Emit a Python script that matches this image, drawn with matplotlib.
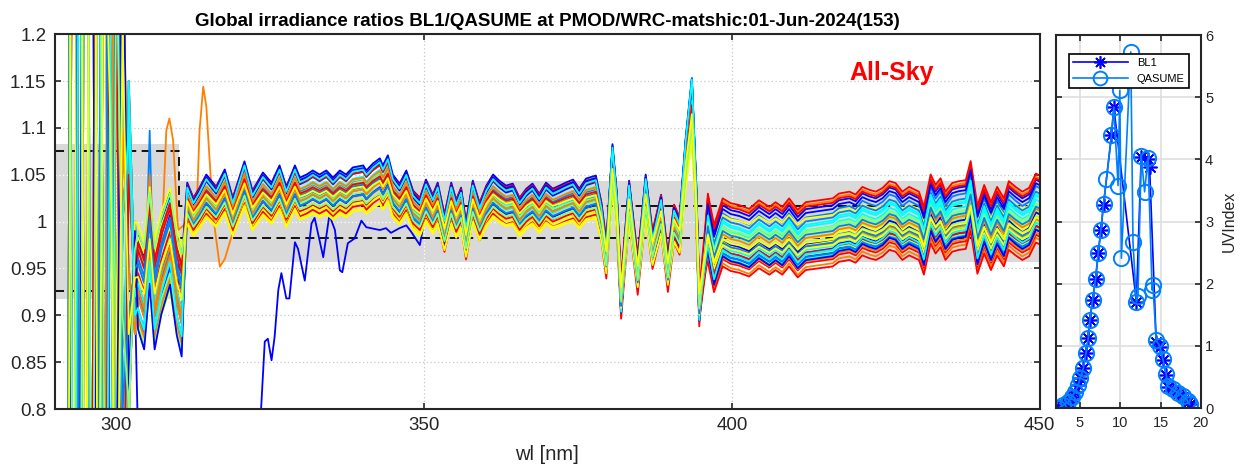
import matplotlib.pyplot as plt
import numpy as np

plt.rcParams['font.family'] = ['Liberation Sans', 'DejaVu Sans']

# ratio structure common to all scans (nm, BL1/QASUME)
base_wl = [303.5, 304.5, 305.4, 306.2, 307.3, 308.7, 309.8, 310.6, 311.5, 312.5,
           313.5, 314.6, 316.2, 317.6, 318.9, 320.8, 322.1, 323.8, 325.2, 326.5,
           327.6, 329.0, 329.8, 330.9, 331.9, 333.0, 334.1, 335.2, 336.3, 337.3,
           338.4, 340.1, 340.6, 341.7, 342.8, 343.3, 344.1, 344.9, 346.0, 347.1,
           348.2, 349.3, 350.3, 351.4, 352.2, 353.3, 354.4, 355.2, 356.0, 356.8,
           357.9, 359.0, 360.1, 361.2, 362.2, 363.3, 364.4, 365.5, 366.6, 367.6,
           368.7, 369.8, 370.9, 372.0, 373.0, 374.2, 375.2, 376.3, 377.9, 378.8,
           379.6, 380.6, 381.3, 382.0, 383.3, 384.7, 386.0, 387.1, 388.5, 389.6,
           390.6, 391.5, 392.5, 393.5, 394.2, 394.7, 396.1, 397.1, 398.5, 399.8,
           401.2, 402.8, 404.4, 406.1, 407.1, 408.2, 409.3, 410.7, 412.0, 414.2,
           416.4, 417.4, 419.1, 420.1, 421.2, 422.3, 423.4, 424.5, 425.6, 426.6,
           427.7, 428.8, 430.4, 431.2, 432.3, 433.1, 433.9, 434.7, 435.8, 436.9,
           438.0, 438.8, 439.9, 441.0, 442.1, 443.1, 444.2, 445.0, 446.1, 447.2,
           448.3, 449.4, 450.0]
base_ratio = [0.940, 0.920, 0.985, 0.920, 0.955, 0.984, 0.934, 0.913, 1.020, 1.005,
              1.015, 1.028, 1.016, 1.033, 1.005, 1.041, 1.012, 1.030, 1.020, 1.037,
              1.016, 1.037, 1.025, 1.028, 1.032, 1.028, 1.032, 1.025, 1.032, 1.028,
              1.035, 1.037, 1.032, 1.039, 1.044, 1.037, 1.047, 1.028, 1.019, 1.032,
              1.012, 1.005, 1.023, 1.008, 1.020, 0.988, 1.020, 1.003, 1.015, 0.980,
              1.022, 1.000, 1.017, 1.028, 1.022, 1.017, 1.019, 1.005, 1.014, 1.019,
              1.009, 1.020, 1.014, 1.017, 1.020, 1.023, 1.014, 1.024, 1.027, 1.000,
              0.960, 1.058, 1.010, 0.918, 1.022, 0.943, 1.028, 0.970, 1.008, 0.946,
              0.998, 0.985, 1.064, 1.123, 1.020, 0.910, 0.995, 0.962, 0.990, 0.985,
              0.983, 0.979, 0.988, 0.981, 0.986, 0.981, 0.990, 0.978, 0.986, 0.988,
              0.990, 0.995, 0.997, 0.994, 1.002, 0.999, 0.997, 1.001, 1.008, 1.006,
              0.997, 1.002, 0.997, 0.981, 1.015, 1.004, 1.011, 0.997, 1.006, 1.008,
              1.009, 1.029, 0.982, 1.004, 0.986, 1.002, 0.990, 1.008, 1.002, 0.997,
              1.001, 1.016, 1.014]

# noisy short-wave end of the scans
short_wl = [292, 293, 294, 295, 296, 297, 298, 299, 300, 301, 302, 303]
short_patterns = [
    [2.2, 0.3, 1.9, 0.2, 2.4, 0.4, 1.7, 0.6, 1.4, 0.7, 1.15, 0.92],
    [0.4, 2.6, 0.1, 1.8, 0.3, 2.0, 0.5, 1.6, 0.75, 1.25, 0.85, 0.96],
    [0.2, 0.3, 2.2, 2.0, 0.1, 1.5, 1.6, 0.4, 0.9, 1.3, 0.78, 1.0],
    [2.4, 2.2, 0.2, 0.5, 1.9, 0.3, 0.6, 1.7, 0.5, 1.1, 0.95, 0.88],
    [0.2, 1.7, 2.3, 0.1, 0.6, 2.1, 0.3, 1.4, 1.2, 0.6, 1.05, 0.93],
    [1.9, 0.1, 0.6, 2.5, 1.6, 0.2, 1.9, 0.5, 0.7, 1.4, 0.82, 0.99],
    [0.5, 2.3, 0.4, 1.8, 0.2, 0.7, 2.0, 0.3, 1.5, 0.8, 0.9, 0.95],
    [2.5, 0.2, 1.5, 0.3, 2.1, 1.8, 0.2, 1.2, 0.6, 1.0, 1.1, 0.9],
    [1.7, 0.5, 0.3, 2.0, 0.4, 1.6, 0.8, 0.4, 1.3, 0.9, 0.8, 0.97],
    [0.3, 2.0, 1.8, 0.4, 2.3, 0.5, 1.4, 1.1, 0.5, 1.2, 0.88, 0.94],
]

# level of each scan: below 311 nm, 311-395 nm, above 395 nm
low_offset = [0.02, -0.03, 0.04, -0.05, 0.01, 0.03, -0.02, 0.05, -0.04, 0.0,
              0.03, -0.06, 0.02, -0.01, 0.045, -0.035, 0.015, -0.025, 0.035, -0.045,
              0.005, 0.025, -0.015, 0.04, -0.055, 0.01, -0.02, 0.03, -0.03, 0.02,
              0.0, -0.04, 0.05, -0.01, 0.035, -0.05, 0.015, -0.025, 0.045, -0.005]
uv_offset = [-0.012, 0.015, 0.018, 0.008, -0.015, 0.004, -0.02, 0.02, 0.01, 0.012,
             0.005, -0.012, 0.002, 0.02, -0.006, 0.006, 0.0, -0.004, -0.018, -0.008,
             -0.014, 0.012, -0.002, 0.008, 0.01, -0.009, 0.009, 0.016, -0.01, 0.003,
             -0.006, 0.0, -0.02, -0.004, 0.006, 0.017, -0.008, 0.014, -0.01, 0.004]
vis_offset = [0.028, 0.02, 0.01, 0.002, 0.016, 0.032, 0.035, -0.018, -0.02, 0.006,
              -0.004, -0.006, -0.034, -0.038, -0.022, 0.015, -0.016, -0.014, -0.012, -0.013,
              -0.03, -0.008, -0.012, -0.025, -0.022, -0.016, -0.028, 0.03, 0.024, -0.024,
              0.012, 0.004, -0.001, -0.003, -0.02, -0.026, 0.0, -0.019, -0.009, -0.01]
feature_gain = [1.05, 1.12, 1.1, 0.95, 0.9, 1.0, 1.02, 1.08, 0.96, 1.1,
                0.92, 0.88, 1.04, 0.98, 1.1, 1.06, 1.0, 0.94, 0.86, 0.98,
                1.0, 1.12, 1.04, 1.08, 0.96, 0.9, 1.02, 1.0, 1.06, 0.98,
                1.1, 0.94, 0.88, 1.04, 0.96, 1.08, 1.0, 1.12, 0.92, 0.9]

# first morning scan, weak signal up to ~350 nm
early_wl = [304.0, 310.0, 316.0, 322.5, 323.5, 324.1, 324.6, 325.2, 325.7, 326.3,
            326.8, 327.6, 328.1, 329.0, 329.5, 329.8, 330.6, 331.7, 332.2, 333.0,
            333.6, 334.6, 335.5, 336.3, 336.7, 337.6, 338.7, 339.8, 340.6, 342.8,
            343.8, 344.6, 346.0, 347.1, 347.9, 349.3]
early_ratio = [0.62, 0.55, 0.6, 0.7, 0.80, 0.872, 0.875, 0.852, 0.877, 0.927,
               0.945, 0.918, 0.918, 0.978, 0.971, 0.962, 0.937, 0.998, 1.004, 0.980,
               0.962, 1.007, 0.991, 0.948, 0.946, 0.977, 0.982, 1.001, 0.994, 0.991,
               0.993, 0.988, 0.993, 0.996, 0.989, 0.975]

# scan with stray peaks near 308 and 314 nm
stray_wl = [305.4, 306.2, 307.3, 308.1, 308.6, 309.2, 310.0, 311.3, 313.0, 313.5,
            314.1, 314.6, 315.7, 316.8, 317.6, 318.7]
stray_ratio = [1.05, 0.96, 0.97, 1.097, 1.11, 1.087, 0.991, 0.998, 1.006, 1.097,
               1.144, 1.123, 1.006, 0.952, 0.96, 0.984]
stray_scan = 5

# tolerance bands and limits
band_wl = [290, 310.2, 450]
band_low = [0.917, 0.957, 0.957]
band_high = [1.083, 1.043, 1.043]
limit_wl = [290, 310.2, 310.2, 450]
limit_high = [1.075, 1.075, 1.017, 1.017]
limit_low = [0.926, 0.926, 0.983, 0.983]

# UV index during the day
bl1_time = [2.32, 2.94, 3.56, 3.97, 4.38, 4.79, 5.0, 5.41, 5.74, 6.03, 6.23, 6.56,
            6.93, 7.26, 7.59, 7.92, 8.91, 9.2, 12.0, 12.6, 13.44, 13.64, 14.46, 14.88,
            15.28, 15.7, 15.9, 16.52, 17.14, 17.76, 18.37, 18.6]
bl1_uvi = [0.0, 0.05, 0.1, 0.18, 0.26, 0.37, 0.48, 0.64, 0.88, 1.12, 1.41, 1.74,
           2.07, 2.49, 2.86, 3.27, 4.39, 4.84, 1.71, 4.04, 4.01, 3.88, 1.07, 0.99,
           0.77, 0.53, 0.34, 0.29, 0.24, 0.18, 0.1, 0.06]
qasume_time = [2.32, 2.94, 3.56, 3.97, 4.38, 4.79, 5.0, 5.41, 5.74, 6.03, 6.23, 6.56,
               6.93, 7.26, 7.59, 7.92, 8.29, 8.91, 9.2, 9.73, 9.94, 10.14, 11.3, 11.58,
               12.0, 12.2, 12.6, 13.02, 13.44, 13.95, 14.05, 14.46, 14.88, 15.28, 15.7,
               15.9, 16.52, 17.14, 17.76, 18.37, 18.6]
qasume_uvi = [0.0, 0.05, 0.1, 0.18, 0.26, 0.37, 0.48, 0.64, 0.88, 1.12, 1.41, 1.74,
              2.07, 2.49, 2.86, 3.29, 3.69, 4.39, 4.84, 3.58, 5.11, 2.41, 5.73, 2.67,
              1.71, 1.81, 4.06, 3.48, 4.03, 1.9, 1.98, 1.09, 1.0, 0.79, 0.55,
              0.35, 0.3, 0.25, 0.19, 0.11, 0.06]

jet7 = [(0, 0, 1), (0, 0.5, 1), (0, 1, 1), (0.5, 1, 0.5), (1, 1, 0), (1, 0.5, 0), (1, 0, 0)]
axis_color = '#262626'


def scan_ratio(k):
    wl = np.array(base_wl)
    base = np.array(base_ratio)
    offset = np.where(wl < 311, low_offset[k],
                      np.where(wl < 395.5, uv_offset[k], vis_offset[k]))
    ratio = 1 + feature_gain[k] * (base - 1) + offset
    if k == 0:
        keep = wl > 349.5
        wl = np.concatenate([early_wl, wl[keep]])
        ratio = np.concatenate([early_ratio, ratio[keep]])
    if k == 1:
        ratio[base_wl.index(305.4)] = 1.097
    if k == stray_scan:
        keep = (wl < 305) | (wl > 319)
        wl = np.concatenate([wl[keep], stray_wl])
        ratio = np.concatenate([ratio[keep], stray_ratio])
        order = np.argsort(wl)
        wl, ratio = wl[order], ratio[order]
    wl = np.concatenate([short_wl, wl])
    ratio = np.concatenate([short_patterns[k % len(short_patterns)], ratio])
    return wl, ratio


fig = plt.figure(figsize=(12.48, 4.68), dpi=100)
ax = fig.add_axes([0.044, 0.126, 0.789, 0.801])
ax2 = fig.add_axes([0.846, 0.128, 0.1162, 0.797])

# --- spectral ratios ---
ax.fill_between(band_wl, band_low, band_high, step='post', color='#d9d9d9', lw=0, zorder=1)

xticks = [300, 350, 400, 450]
yticks = np.round(np.arange(0.8, 1.2001, 0.05), 2)
for x0, x1, lo, hi in zip(band_wl[:-1], band_wl[1:], band_low, band_high):
    for yv in yticks:
        if lo < yv < hi:
            ax.plot([x0, x1], [yv, yv], color='white', lw=0.9, ls=(0, (1, 2)), zorder=1.1)
    for xv in xticks:
        if x0 < xv < x1:
            ax.plot([xv, xv], [lo, hi], color='white', lw=0.9, ls=(0, (1, 2)), zorder=1.1)

ax.plot(limit_wl, limit_high, color='black', ls=(0, (5, 3)), lw=1.3, zorder=1.5)
ax.plot(limit_wl, limit_low, color='black', ls=(0, (5, 3)), lw=1.3, zorder=1.5)

for k in range(len(uv_offset)):
    wl, ratio = scan_ratio(k)
    ax.plot(wl, ratio, color=jet7[k % 7], lw=1.3, zorder=2)

ax.text(426, 1.159, 'All-Sky', color='red', fontsize=18, fontweight='bold',
        ha='center', va='center')

ax.set_xlim(290, 450)
ax.set_ylim(0.8, 1.2)
ax.set_xticks(xticks)
ax.set_yticks(yticks)
ax.set_yticklabels(['%g' % v for v in yticks])
ax.set_axisbelow(True)
ax.grid(True, color='#c8c8c8', ls=(0, (1, 2)), lw=0.9)
ax.tick_params(direction='in', length=4, width=1.2, top=True, right=True,
               labelsize=13.5, colors=axis_color, pad=6)
for s in ax.spines.values():
    s.set_linewidth(1.5)
    s.set_color(axis_color)
ax.set_xlabel('wl [nm]', fontsize=14.5, color=axis_color, labelpad=8)
ax.set_title('Global irradiance ratios BL1/QASUME at PMOD/WRC-matshic:01-Jun-2024(153)',
             fontsize=13.5, fontweight='bold', pad=6)

# --- UV index ---
asterisk = (8, 2, 0)
ax2.plot(bl1_time, bl1_uvi, '-', marker=asterisk, color=(0, 0, 1), ms=10, mew=1.2,
         lw=1.2, label='BL1')
ax2.plot(qasume_time, qasume_uvi, '-o', color=(0, 0.5, 1), mfc='none', ms=11, mew=1.4,
         lw=1.2, label='QASUME')
ax2.set_xlim(2, 20)
ax2.set_ylim(0, 6)
ax2.set_xticks([5, 10, 15, 20])
ax2.set_yticks(range(7))
ax2.grid(True, color='#dedede', lw=1.2)
ax2.set_axisbelow(True)
ax2.tick_params(direction='in', length=4, width=1.2, top=True, left=True, right=True,
                labelleft=False, labelright=True, labelsize=10.5, colors=axis_color, pad=3)
ax2.tick_params(axis='x', pad=6)
for s in ax2.spines.values():
    s.set_linewidth(1.5)
    s.set_color(axis_color)
ax2.yaxis.set_label_position('right')
ax2.set_ylabel('UVIndex', fontsize=11.5, color=axis_color, labelpad=6)
leg = ax2.legend(loc='upper right', bbox_to_anchor=(0.955, 0.965), fontsize=8,
                 handlelength=5, fancybox=False, framealpha=1, edgecolor='black',
                 borderpad=0.35, labelspacing=0.55, markerscale=0.9)
leg.get_frame().set_linewidth(1.2)

fig.savefig('out.png', dpi=100)
